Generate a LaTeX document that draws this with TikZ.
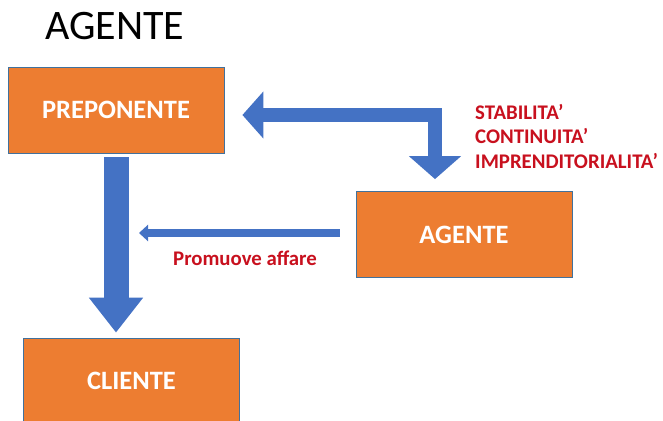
\documentclass[tikz,border=0pt]{standalone}
\usepackage{fontspec}
\setmainfont{Carlito}
\usetikzlibrary{arrows.meta,calc}
\definecolor{boxorange}{HTML}{ED7D31}
\definecolor{boxline}{HTML}{41719C}
\definecolor{arrowblue}{HTML}{4472C4}
\definecolor{notered}{HTML}{C8101E}
\begin{document}
\begin{tikzpicture}[x=1pt,y=-1pt,
  party/.style={draw=boxline,line width=0.8pt,fill=boxorange,text=white,
    font=\bfseries\fontsize{26.5}{30}\selectfont,
    minimum width=216pt,minimum height=86pt,inner sep=0pt},
  flow/.style={draw=arrowblue,line join=miter},
  note/.style={text=notered,font=\bfseries\fontsize{20.8}{24.5}\selectfont,inner sep=0pt}]
\useasboundingbox (0,0) rectangle (663,420);
\node[anchor=base west,inner sep=0pt,font=\fontsize{42}{46}\selectfont] (title) at (45,40) {AGENTE};
% the three parties
\node[party] (preponente) at (116,110) {PREPONENTE};
\node[party] (agente) at (464,234.5) {AGENTE};
\node[party] (cliente) at (131.5,381) {CLIENTE};
% preponente <-> agente
\coordinate (bend) at (435,115);
\draw[flow,line width=14pt,{Triangle[width=46pt,length=21pt]}-{Triangle[width=51pt,length=23pt]}]
  ($(preponente.east |- bend)+(18,0)$) -- (bend) -- ($(agente.north -| bend)+(0,-12)$);
\node[note,anchor=north west,align=left] (requisiti) at (475,104)
  {STABILITA'\\CONTINUITA'\\IMPRENDITORIALITA'};
% preponente -> cliente
\draw[flow,line width=25pt,-{Triangle[width=52pt,length=35pt]}]
  ($(preponente.south)+(0,4)$) -- ($(cliente.north -| preponente.south)+(0,-5)$);
% agente -> verso il cliente
\coordinate (promo) at (139,233);
\draw[flow,line width=8pt,-{Triangle[width=16pt,length=9pt]}]
  ($(agente.west |- promo)+(-16,0)$) -- (promo);
\node[note] (affare) at (245,258) {Promuove affare};
\end{tikzpicture}
\end{document}
